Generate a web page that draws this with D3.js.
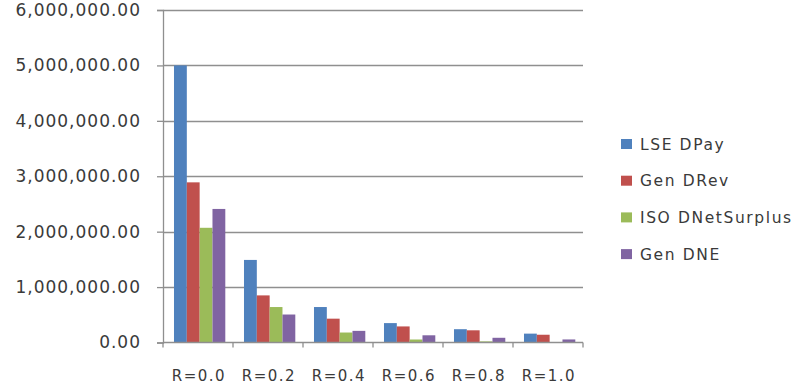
<!DOCTYPE html>
<html><head><meta charset="utf-8">
<script src="https://cdn.jsdelivr.net/npm/d3@7"></script>
<style>
html,body{margin:0;padding:0;background:#fff;}
svg text{font-family:"DejaVu Sans",Verdana,sans-serif;fill:#3a3a3a;}
</style></head>
<body>
<svg id="c" width="801" height="385"></svg>
<script>
const categories = ["R=0.0","R=0.2","R=0.4","R=0.6","R=0.8","R=1.0"];
const seriesNames = ["LSE DPay","Gen DRev","ISO DNetSurplus","Gen DNE"];
const lseDPay = [5000000, 1490000, 640000, 350000, 240000, 160000];
const genDRev = [2890000, 850000, 430000, 290000, 220000, 140000];
const isoDNetSurplus = [2070000, 640000, 180000, 54000, 20000, 5000];
const genDNE = [2410000, 505000, 210000, 130000, 85000, 55000];
const yTicks = [0, 1000000, 2000000, 3000000, 4000000, 5000000, 6000000];
const colors = ["#4F81BD","#C0504D","#9BBB59","#8064A2"];

const seriesValues = [lseDPay, genDRev, isoDNetSurplus, genDNE];
const svg = d3.select("#c");
const L = 163, R = 583, T = 10, B = 342.5;

const y = d3.scaleLinear().domain([0, 6000000]).range([B, T]);
const x0 = d3.scaleBand().domain(categories).range([L, R]).padding(0);
const bw = x0.bandwidth();
const x1 = d3.scaleBand().domain(seriesNames).range([bw * 0.157, bw * 0.89]).padding(0);

// gridlines
svg.append("g").selectAll("line").data(yTicks.slice(1)).join("line")
  .attr("x1", L).attr("x2", R)
  .attr("y1", d => Math.round(y(d)) + 0.5).attr("y2", d => Math.round(y(d)) + 0.5)
  .attr("stroke", "#8f8f8f").attr("stroke-width", 1.3);

// bars
const groups = svg.append("g").selectAll("g").data(categories).join("g")
  .attr("transform", c => `translate(${x0(c)},0)`);
groups.selectAll("rect").data((c, i) => seriesNames.map((s, j) => ({s, j, v: seriesValues[j][i]})))
  .join("rect")
  .attr("x", d => x1(d.s)).attr("width", x1.bandwidth())
  .attr("y", d => y(d.v)).attr("height", d => B - y(d.v))
  .attr("fill", d => colors[d.j]);

// y axis
const yAxis = d3.axisLeft(y).tickValues(yTicks).tickSize(6).tickPadding(16)
  .tickFormat(d3.format(",.2f"));
const gy = svg.append("g").attr("transform", `translate(${L},0)`).call(yAxis);
gy.select(".domain").attr("stroke", "#8f8f8f").attr("stroke-width", 1.3);
gy.selectAll(".tick line").attr("stroke", "#8f8f8f").attr("stroke-width", 1.3);
gy.selectAll(".tick text").attr("font-size", 17).attr("letter-spacing", 1)
  .style("font-family", "'DejaVu Sans',Verdana,sans-serif").attr("fill", "#3a3a3a");

// x axis
const gx = svg.append("g").attr("transform", `translate(0,${B})`);
gx.append("line").attr("x1", L).attr("x2", R).attr("y1", 0).attr("y2", 0)
  .attr("stroke", "#8f8f8f").attr("stroke-width", 1.3);
const boundaries = categories.map(c => x0(c)).concat([R]);
gx.selectAll("line.tk").data(boundaries).join("line").attr("class", "tk")
  .attr("x1", d => d).attr("x2", d => d).attr("y1", 0).attr("y2", 5)
  .attr("stroke", "#8f8f8f").attr("stroke-width", 1.3);
gx.selectAll("text").data(categories).join("text")
  .attr("x", c => x0(c) + bw / 2 + 1).attr("y", 38.5)
  .attr("text-anchor", "middle").attr("font-size", 15).attr("letter-spacing", 1.5)
  .text(c => c);

// legend
const lg = svg.append("g").selectAll("g").data(seriesNames).join("g")
  .attr("transform", (s, i) => `translate(621,${144 + i * 36.7})`);
lg.append("rect").attr("x", 0).attr("y", -5).attr("width", 11).attr("height", 10)
  .attr("fill", (s, i) => colors[i]);
lg.append("text").attr("x", 19).attr("y", 5.5).attr("font-size", 15.5).attr("letter-spacing", 1.6)
  .text(s => s);
</script>
</body></html>
